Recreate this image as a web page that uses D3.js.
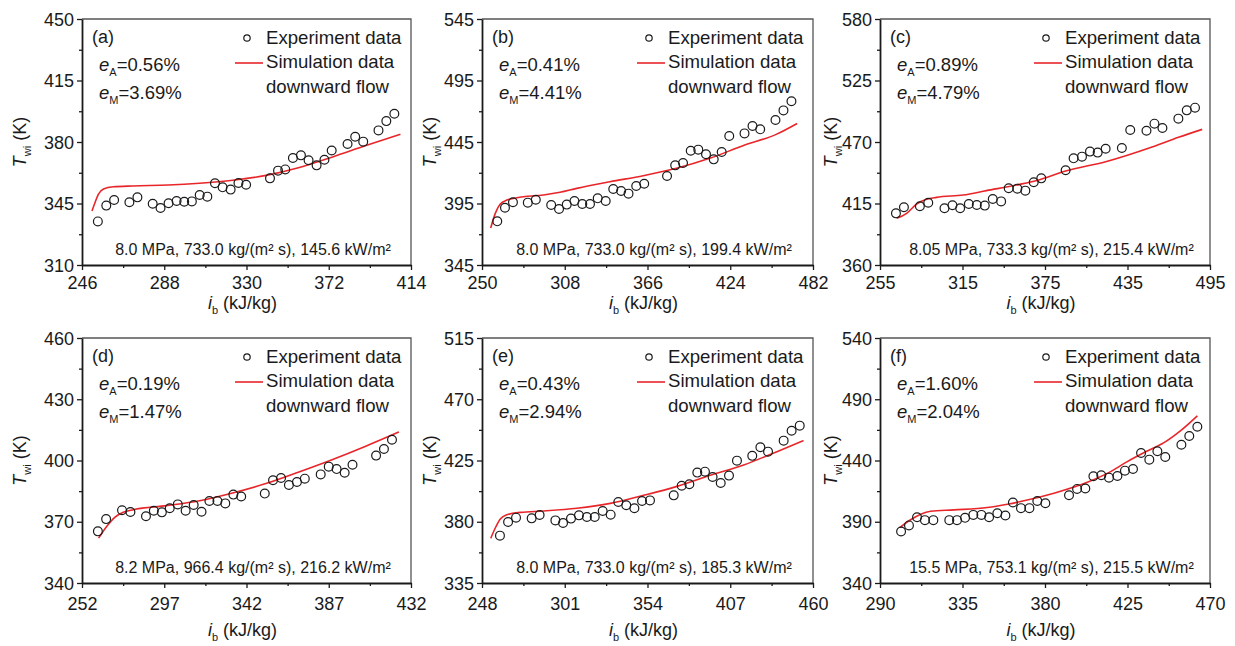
<!DOCTYPE html>
<html>
<head>
<meta charset="utf-8">
<script src="https://cdn.jsdelivr.net/npm/d3@7"></script>
<style>
  html, body { margin: 0; padding: 0; background: #fff; }
  svg { display: block; font-family: "Liberation Sans", Arial, sans-serif; }
</style>
</head>
<body>
<svg id="chart" width="1235" height="646"></svg>
<script>
// ---- Panel (a) ----
const aExpI = [254.1,258.4,262.4,270.2,274.3,282.1,286.1,290.2,294.3,298.2,302.1,306.1,310.0,313.9,317.8,321.9,325.9,329.8,342.0,346.1,349.8,353.7,357.8,361.7,365.8,369.8,373.5,381.6,385.5,389.6,397.4,401.4,405.5];
const aExpT = [334.8,343.8,347.0,345.7,348.5,344.9,342.4,345.1,346.4,346.0,346.2,349.8,348.9,356.5,354.2,352.9,356.7,355.7,359.3,363.7,364.4,370.9,372.4,369.6,366.7,369.9,375.2,378.9,383.0,380.2,386.6,391.9,396.1];
const aSimI = [251.1,252.8,254.5,257.0,262.0,272.0,290.0,306.0,323.0,340.0,357.0,374.0,391.0,408.6];
const aSimT = [340.7,346.0,350.5,353.2,354.5,355.0,355.5,356.5,358.2,361.0,365.5,371.5,378.0,384.4];
const aXTicks = [246,288,330,372,414];
const aYTicks = [310,345,380,415,450];

// ---- Panel (b) ----
const bExpI = [260.7,266.1,271.7,282.1,287.7,298.5,304.0,309.4,314.8,320.3,325.7,331.1,336.7,342.0,347.5,352.7,358.1,363.7,379.7,385.4,390.9,396.3,401.6,407.0,412.4,418.0,423.3,434.0,439.6,445.0,455.7,461.3,466.9];
const bExpT = [380.5,391.6,396.0,395.7,398.1,393.8,390.5,394.1,397.0,394.6,394.6,399.2,397.0,406.8,405.2,403.0,409.2,411.1,417.4,426.0,427.9,437.9,438.8,435.0,430.9,436.9,449.9,452.0,458.0,455.3,462.9,470.7,478.1];
const bSimI = [256.1,259.3,262.8,267.5,274.5,293.1,304.7,316.4,339.7,363.0,386.3,409.6,432.9,456.2,470.9];
const bSimT = [375.1,387.0,394.6,397.8,399.7,401.9,404.1,407.3,412.7,417.6,423.6,431.7,442.0,451.2,460.1];
const bXTicks = [250,308,366,424,482];
const bYTicks = [345,395,445,495,545];

// ---- Panel (c) ----
const cExpI = [266.6,272.4,284.0,290.1,301.9,307.7,313.3,319.6,325.4,331.2,337.0,343.1,348.6,354.9,360.7,366.8,372.3,390.0,395.8,401.9,407.7,413.3,419.1,430.9,437.0,448.8,454.6,460.4,472.0,478.1,484.1];
const cExpT = [406.2,411.6,412.5,415.7,410.7,413.4,410.7,414.6,413.7,413.1,419.0,416.9,428.6,428.3,426.5,434.0,437.5,444.7,455.4,456.9,461.4,460.5,464.0,464.6,480.7,480.1,486.4,482.5,490.9,498.3,500.7];
const cSimI = [267.1,274.4,281.6,288.9,296.1,315.5,332.4,356.6,369.0,390.0,419.1,453.4,472.1,489.3];
const cSimT = [401.7,406.2,414.5,418.7,420.5,422.6,426.5,432.1,435.6,444.1,452.4,465.8,474.2,481.3];
const cXTicks = [255,315,375,435,495];
const cYTicks = [360,415,470,525,580];

// ---- Panel (d) ----
const dExpI = [260.7,265.2,273.9,278.5,287.0,291.3,295.7,300.0,304.4,308.7,313.1,317.4,321.7,326.1,330.4,334.8,339.1,352.0,356.5,360.9,365.2,369.6,373.9,382.6,387.0,391.3,395.7,400.0,412.9,417.2,421.6];
const dExpT = [365.3,371.3,375.6,374.8,372.7,375.4,374.6,376.6,378.5,375.4,378.2,374.9,380.2,380.2,379.0,383.3,382.4,383.8,390.3,391.4,388.0,389.5,391.1,393.2,397.0,395.8,394.0,397.9,402.4,405.6,410.2];
const dSimI = [261.1,265.6,270.1,274.6,280.1,298.2,316.3,334.4,352.6,370.7,388.8,406.9,425.4];
const dSimT = [362.0,367.8,372.3,374.6,375.9,377.9,380.3,384.1,388.7,394.4,400.4,406.9,414.0];
const dXTicks = [252,297,342,387,432];
const dYTicks = [340,370,400,430,460];

// ---- Panel (e) ----
const eExpI = [259.5,264.7,269.8,279.8,284.9,295.0,299.9,305.0,310.1,315.2,320.2,325.3,330.4,335.3,340.4,345.6,350.5,355.6,370.8,375.9,380.8,385.9,390.8,395.7,400.9,406.2,411.3,421.1,426.3,431.2,441.2,446.3,451.5];
const eExpT = [369.8,379.8,383.0,382.5,385.0,381.0,379.1,382.3,384.7,383.5,383.5,387.9,385.2,394.5,392.1,389.9,395.2,395.7,399.4,406.5,407.5,416.1,416.8,412.9,408.5,413.9,424.9,428.4,434.7,431.5,439.6,446.9,450.6];
const eSimI = [253.6,256.5,259.7,264.0,272.6,287.5,308.8,330.2,351.5,372.9,394.2,415.6,436.9,454.0];
const eSimT = [367.8,375.4,382.0,385.2,386.9,387.9,389.9,393.5,399.4,406.0,414.1,421.7,431.5,439.6];
const eXTicks = [248,301,354,407,460];
const eYTicks = [335,380,425,470,515];

// ---- Panel (f) ----
const fExpI = [301.5,305.8,310.2,314.5,319.1,327.8,332.0,336.4,340.9,345.3,349.5,354.0,358.4,362.5,366.9,371.5,375.8,380.2,393.1,397.5,402.0,406.4,410.7,414.9,419.5,423.6,428.0,432.4,436.9,441.3,445.6,454.4,458.7,463.1];
const fExpT = [382.1,387.0,393.7,391.3,391.3,391.3,391.3,393.2,395.6,395.6,393.7,397.0,395.1,405.7,401.1,401.1,407.0,405.1,411.6,416.8,417.1,427.1,427.9,426.0,427.4,431.7,433.1,446.1,440.7,447.5,442.9,452.9,460.0,467.5];
const fSimI = [300.9,306.7,312.2,317.6,330.4,348.5,359.5,366.7,384.9,403.1,415.8,424.9,435.8,444.9,454.0,463.1];
const fSimT = [385.3,391.6,396.2,398.6,399.7,401.6,404.3,406.5,413.3,422.2,430.9,439.1,447.8,454.6,464.4,476.5];
const fXTicks = [290,335,380,425,470];
const fYTicks = [340,390,440,490,540];

// ---- Labels ----
const panelLabels = ["(a)","(b)","(c)","(d)","(e)","(f)"];
const errAvg = ["0.56%","0.41%","0.89%","0.19%","0.43%","1.60%"];
const errMax = ["3.69%","4.41%","4.79%","1.47%","2.94%","2.04%"];
const conditions = [
  "8.0 MPa, 733.0 kg/(m\u00B2 s), 145.6 kW/m\u00B2",
  "8.0 MPa, 733.0 kg/(m\u00B2 s), 199.4 kW/m\u00B2",
  "8.05 MPa, 733.3 kg/(m\u00B2 s), 215.4 kW/m\u00B2",
  "8.2 MPa, 966.4 kg/(m\u00B2 s), 216.2 kW/m\u00B2",
  "8.0 MPa, 733.0 kg/(m\u00B2 s), 185.3 kW/m\u00B2",
  "15.5 MPa, 753.1 kg/(m\u00B2 s), 215.5 kW/m\u00B2"
];
const legendLabels = ["Experiment data", "Simulation data", "downward flow"];

const panels = [
  {expI: aExpI, expT: aExpT, simI: aSimI, simT: aSimT, xt: aXTicks, yt: aYTicks},
  {expI: bExpI, expT: bExpT, simI: bSimI, simT: bSimT, xt: bXTicks, yt: bYTicks},
  {expI: cExpI, expT: cExpT, simI: cSimI, simT: cSimT, xt: cXTicks, yt: cYTicks},
  {expI: dExpI, expT: dExpT, simI: dSimI, simT: dSimT, xt: dXTicks, yt: dYTicks},
  {expI: eExpI, expT: eExpT, simI: eSimI, simT: eSimT, xt: eXTicks, yt: eYTicks},
  {expI: fExpI, expT: fExpT, simI: fSimI, simT: fSimT, xt: fXTicks, yt: fYTicks}
];

// Grid geometry
const colLeft = [82, 482, 880];
const colRight = [411, 813, 1210];
const rowTop = [19, 338];
const rowBottom = [265, 583];
const yTitleOffset = [-62, -52, -49];
const xLabelPad = [24, 27];
const xTitlePad = [44, 53];

const ink = "#1a1a1a";
const red = "#e8262a";

const svg = d3.select("#chart");

function midpoints(arr) {
  const m = [];
  for (let i = 0; i < arr.length - 1; i++) m.push((arr[i] + arr[i + 1]) / 2);
  return m;
}

panels.forEach((p, k) => {
  const col = k % 3, row = Math.floor(k / 3);
  const L = colLeft[col], R = colRight[col], T = rowTop[row], B = rowBottom[row];
  const x = d3.scaleLinear().domain([p.xt[0], p.xt[p.xt.length - 1]]).range([L, R]);
  const y = d3.scaleLinear().domain([p.yt[0], p.yt[p.yt.length - 1]]).range([B, T]);
  const g = svg.append("g");

  // top/right frame
  g.append("path")
    .attr("d", `M${L},${T}H${R}V${B}`)
    .attr("fill", "none").attr("stroke", "#555").attr("stroke-width", 1.3);

  // major + minor ticks, x axis
  const xAxis = g.append("g").attr("transform", `translate(0,${B})`)
    .call(d3.axisBottom(x).tickValues(p.xt).tickSize(5).tickSizeOuter(0).tickPadding(3));
  g.append("g").attr("transform", `translate(0,${B})`)
    .call(d3.axisBottom(x).tickValues(midpoints(p.xt)).tickSize(3).tickFormat(""))
    .call(s => s.select(".domain").remove());
  // major + minor ticks, y axis
  const yAxis = g.append("g").attr("transform", `translate(${L},0)`)
    .call(d3.axisLeft(y).tickValues(p.yt).tickSize(5).tickSizeOuter(0).tickPadding(2));
  g.append("g").attr("transform", `translate(${L},0)`)
    .call(d3.axisLeft(y).tickValues(midpoints(p.yt)).tickSize(3).tickFormat(""))
    .call(s => s.select(".domain").remove());

  g.selectAll(".domain").attr("stroke", ink).attr("stroke-width", 1.8);
  g.selectAll(".tick line").attr("stroke", ink).attr("stroke-width", 1.3);
  xAxis.selectAll(".tick text").attr("font-size", 18).attr("fill", ink)
    .attr("font-family", "Liberation Sans, Arial, sans-serif")
    .attr("dy", null).attr("y", xLabelPad[row]).attr("dominant-baseline", "alphabetic");
  yAxis.selectAll(".tick text").attr("font-size", 18).attr("fill", ink)
    .attr("font-family", "Liberation Sans, Arial, sans-serif")
    .attr("x", -8).attr("dy", "0.34em");

  // Simulation curve
  const line = d3.line()
    .x((d, i) => x(p.simI[i]))
    .y((d, i) => y(p.simT[i]))
    .curve(d3.curveMonotoneX);
  g.append("path").datum(p.simI)
    .attr("d", line)
    .attr("fill", "none").attr("stroke", red).attr("stroke-width", 1.6);

  // Experiment points
  g.selectAll("circle.exp").data(p.expI).join("circle")
    .attr("class", "exp")
    .attr("cx", d => x(d))
    .attr("cy", (d, i) => y(p.expT[i]))
    .attr("r", 4.4)
    .attr("fill", "none").attr("stroke", ink).attr("stroke-width", 1.2);

  // Panel label
  g.append("text").attr("x", L + 10).attr("y", T + 24)
    .attr("font-size", 18).attr("fill", ink).text(panelLabels[k]);

  // Error annotations
  [["A", errAvg[k], 52], ["M", errMax[k], 80]].forEach(([sub, val, dy]) => {
    const t = g.append("text").attr("x", L + 17).attr("y", T + dy)
      .attr("font-size", 18.5).attr("fill", ink);
    t.append("tspan").attr("font-style", "italic").text("e");
    t.append("tspan").attr("font-size", 11).attr("dy", 5).text(sub);
    t.append("tspan").attr("dy", -5).text("=" + val);
  });

  // Legend
  g.append("circle").attr("cx", R - 164).attr("cy", T + 19).attr("r", 3.2)
    .attr("fill", "none").attr("stroke", ink).attr("stroke-width", 1.2);
  g.append("line").attr("x1", R - 176).attr("x2", R - 148)
    .attr("y1", T + 44).attr("y2", T + 44)
    .attr("stroke", red).attr("stroke-width", 1.6);
  legendLabels.forEach((s, i) => {
    g.append("text").attr("x", R - 145).attr("y", T + 25 + i * 24.3)
      .attr("font-size", 18.6).attr("fill", ink).text(s);
  });

  // Operating conditions
  g.append("text").attr("x", (L + R) / 2 + 6.5).attr("y", B - 10.5)
    .attr("text-anchor", "middle").attr("font-size", 16).attr("fill", ink)
    .text(conditions[k]);

  // Axis titles
  const yt = g.append("text")
    .attr("transform", `translate(${L + yTitleOffset[col]},${(T + B) / 2}) rotate(-90)`)
    .attr("text-anchor", "middle").attr("font-size", 18).attr("fill", ink)
    .attr("dy", "0.35em");
  yt.append("tspan").attr("font-style", "italic").text("T");
  yt.append("tspan").attr("font-size", 11).attr("dy", 5).text("wi");
  yt.append("tspan").attr("dy", -5).text(" (K)");

  const xtl = g.append("text")
    .attr("x", (L + R) / 2 - 4).attr("y", B + xTitlePad[row])
    .attr("text-anchor", "middle").attr("font-size", 18).attr("fill", ink);
  xtl.append("tspan").attr("font-style", "italic").text("i");
  xtl.append("tspan").attr("font-size", 11).attr("dy", 5).text("b");
  xtl.append("tspan").attr("dy", -5).text(" (kJ/kg)");
});
</script>
</body>
</html>
